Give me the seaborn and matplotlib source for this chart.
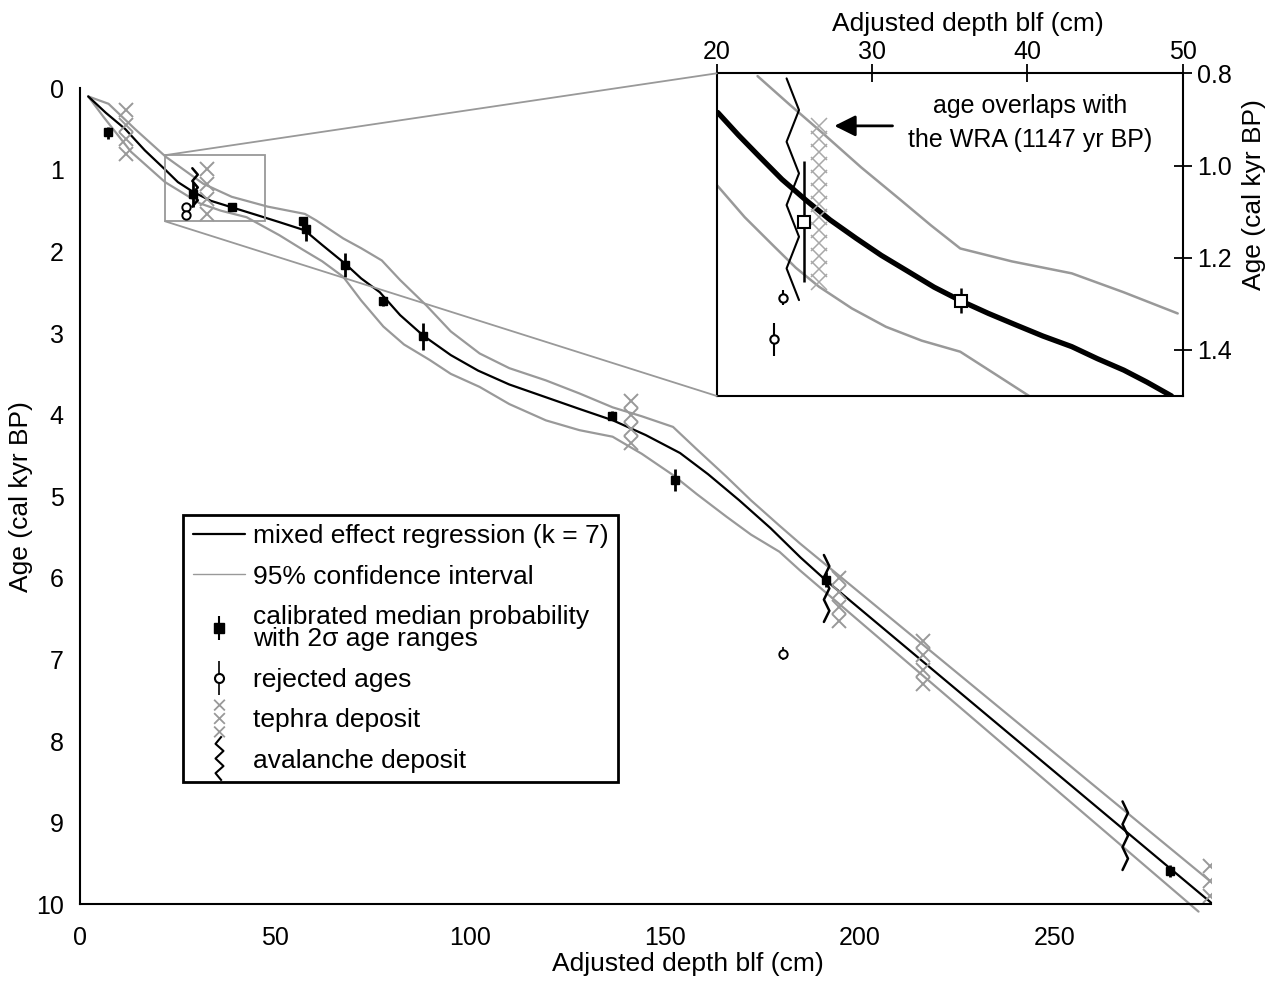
import numpy as np
import matplotlib
matplotlib.use('Agg')
import matplotlib.pyplot as plt
import seaborn as sns
from matplotlib.lines import Line2D
from matplotlib.path import Path
from matplotlib.patches import Rectangle, ConnectionPatch
from matplotlib.legend_handler import HandlerTuple

# ---- main panel: age-depth model (depth in cm, age in cal kyr BP)
fit_depth = [2, 6.5, 11.5, 16.5, 21.8, 25, 28.9, 33.5, 38.9, 45, 51, 57.5, 62, 67.9, 72, 76.8, 82,
             87.9, 95, 102, 110, 119.6, 128, 136.6, 145, 153.8, 161, 169, 177, 184.7, 191.2, 290]
fit_age = [0.10, 0.30, 0.50, 0.76, 1.00, 1.15, 1.27, 1.38, 1.46, 1.55, 1.64, 1.74, 1.92, 2.15, 2.33,
           2.50, 2.78, 3.03, 3.27, 3.46, 3.63, 3.79, 3.93, 4.07, 4.25, 4.47, 4.73, 5.05, 5.39, 5.75, 6.03, 9.98]

ci_up_depth = [2, 7.2, 14, 21.9, 31.5, 38.8, 48, 57.6, 60.5, 67.4, 72, 77.3, 82, 88.7, 95, 102.4, 110,
               119.4, 128, 136.5, 144, 152, 158, 165.7, 172, 179.3, 184.6, 289.6]
ci_up_age = [0.10, 0.19, 0.50, 0.84, 1.17, 1.33, 1.45, 1.54, 1.62, 1.84, 1.96, 2.11, 2.35, 2.66, 2.98,
             3.25, 3.43, 3.58, 3.74, 3.91, 4.02, 4.15, 4.42, 4.76, 5.05, 5.36, 5.58, 9.71]
ci_lo_depth = [2, 5.9, 13, 21.7, 30.6, 36, 42.6, 51, 57.1, 62, 67.4, 72, 77.7, 83, 89.6, 95, 102.4, 110,
               119.4, 128, 136.5, 144, 152, 158, 165.7, 172, 179.3, 184.6, 286.8]
ci_lo_age = [0.10, 0.35, 0.78, 1.15, 1.41, 1.50, 1.58, 1.80, 1.98, 2.12, 2.31, 2.60, 2.92, 3.14, 3.33,
             3.50, 3.66, 3.87, 4.07, 4.19, 4.27, 4.48, 4.74, 4.97, 5.25, 5.47, 5.68, 5.91, 10.09]

# calibrated dates: median and 2-sigma range
cal_depth = [7.1, 28.9, 38.9, 57.2, 57.9, 67.9, 77.7, 87.9, 136.3, 152.5, 191.2, 279.5]
cal_age = [0.53, 1.29, 1.46, 1.63, 1.72, 2.16, 2.61, 3.04, 4.02, 4.80, 6.03, 9.59]
cal_min = [0.47, 1.15, 1.43, 1.58, 1.67, 2.02, 2.55, 2.88, 3.95, 4.67, 5.93, 9.52]
cal_max = [0.62, 1.45, 1.49, 1.72, 1.87, 2.31, 2.67, 3.21, 4.07, 4.93, 6.11, 9.66]

rej_depth = [27.1, 27.1, 180.3]
rej_age = [1.45, 1.55, 6.93]
rej_min = [1.41, 1.51, 6.85]
rej_max = [1.49, 1.59, 7.01]

tephra_depth = [11.7, 32.4, 141.1, 194.7, 216.2, 289.8]
tephra_top = [0.27, 0.99, 3.83, 6.00, 6.77, 9.53]
tephra_base = [0.80, 1.54, 4.35, 6.53, 7.30, 9.90]

aval_depth = [29.4, 191.4, 268.0]
aval_top = [0.98, 5.72, 8.74]
aval_base = [1.45, 6.54, 9.58]

zoom_box = (21.7, 47.3, 0.82, 1.63)

# ---- inset: 20-50 cm
ins_fit_depth = [20.07, 21.4, 22.76, 24.2, 25.74, 27.3, 28.98, 30.6, 32.33, 34.0, 35.8, 37.5, 39.27,
                 41.0, 42.86, 44.5, 46.21, 47.7, 49.28]
ins_fit_age = [0.885, 0.934, 0.981, 1.030, 1.075, 1.118, 1.158, 1.195, 1.230, 1.264, 1.295, 1.321,
               1.346, 1.370, 1.393, 1.419, 1.444, 1.470, 1.50]
ins_up_depth = [22.63, 24.7, 26.83, 29.3, 31.85, 33.8, 35.68, 39.0, 42.86, 46.2, 49.68]
ins_up_age = [0.806, 0.868, 0.930, 1.004, 1.075, 1.130, 1.180, 1.208, 1.234, 1.275, 1.321]
ins_lo_depth = [20.0, 21.8, 23.71, 25.1, 26.59, 28.7, 30.9, 33.2, 35.68, 37.9, 40.11]
ins_lo_age = [1.042, 1.112, 1.176, 1.222, 1.263, 1.310, 1.350, 1.380, 1.404, 1.452, 1.50]

ins_cal_depth = [25.63, 35.75]
ins_cal_age = [1.123, 1.295]
ins_cal_min = [0.99, 1.266]
ins_cal_max = [1.252, 1.321]

ins_rej_depth = [24.24, 23.71]
ins_rej_age = [1.287, 1.377]
ins_rej_min = [1.27, 1.341]
ins_rej_max = [1.303, 1.413]

ins_tephra = (26.6, 0.914, 1.252)
ins_aval = (24.9, 0.811, 1.292)

GREY = '#999999'

sns.set_theme(style='white')
plt.rcParams['font.family'] = ['Liberation Sans', 'DejaVu Sans']
plt.rcParams['text.color'] = 'black'
plt.rcParams['axes.labelcolor'] = 'black'
plt.rcParams['xtick.color'] = 'black'
plt.rcParams['ytick.color'] = 'black'
plt.rcParams['axes.edgecolor'] = 'black'


def draw_tephra(ax, depth, top, base, step, ms, mew, color):
    n = int(round((base - top) / step)) + 1
    ax.plot([depth] * n, np.linspace(top, base, n), ls='none', marker='x',
            ms=ms, mew=mew, color=color, zorder=2)


def draw_aval(ax, depth, top, base, amp, nseg, lw):
    ys = np.linspace(top, base, nseg + 1)
    xs = depth + amp * np.resize([-0.5, 0.5], nseg + 1)
    ax.plot(xs, ys, color='black', lw=lw, zorder=4)


def errs(mid, lo, hi):
    mid = np.array(mid)
    return [mid - np.array(lo), np.array(hi) - mid]


fig = plt.figure(figsize=(12.83, 9.83), dpi=100)
ax = fig.add_axes([0.0627, 0.0801, 0.8812, 0.8301])

sns.lineplot(x=ci_up_depth, y=ci_up_age, ax=ax, color=GREY, lw=1.6, sort=False, clip_on=False)
sns.lineplot(x=ci_lo_depth, y=ci_lo_age, ax=ax, color=GREY, lw=1.6, sort=False, clip_on=False)
sns.lineplot(x=fit_depth, y=fit_age, ax=ax, color='black', lw=1.6, sort=False, clip_on=False)

for d, t, b in zip(tephra_depth, tephra_top, tephra_base):
    draw_tephra(ax, d, t, b, 0.175, 10, 1.4, GREY)
for d, t, b in zip(aval_depth, aval_top, aval_base):
    draw_aval(ax, d, t, b, 1.4, 6, 1.8)

ax.errorbar(cal_depth, cal_age, yerr=errs(cal_age, cal_min, cal_max), fmt='s', color='black',
            ms=6, elinewidth=2, capsize=0, zorder=5)
ax.errorbar(rej_depth, rej_age, yerr=errs(rej_age, rej_min, rej_max), fmt='o', color='black',
            mfc='white', mec='black', ms=6, mew=1.4, elinewidth=1.2, capsize=0, zorder=5)

x0, x1, y0, y1 = zoom_box
ax.add_patch(Rectangle((x0, y0), x1 - x0, y1 - y0, fill=False, ec=GREY, lw=1.3, zorder=3))

ax.set_xlim(0, 290)
ax.set_ylim(10, 0)
ax.set_xticks(range(0, 251, 50))
ax.set_yticks(range(0, 11))
sns.despine(ax=ax)
for s in ['left', 'bottom']:
    ax.spines[s].set_linewidth(1.5)
ax.tick_params(axis='both', direction='inout', length=10, width=1.3, labelsize=18)
ax.tick_params(axis='x', pad=11)
ax.tick_params(axis='y', pad=7)
ax.set_xlabel('Adjusted depth blf (cm)', fontsize=19)
ax.set_ylabel('Age (cal kyr BP)', fontsize=19, labelpad=2)
ax.xaxis.set_label_coords(0.537, -0.058)

# legend
tephra_marker = Path(
    [(-0.5, 0.75), (0.5, 1.75), (-0.5, 1.75), (0.5, 0.75),
     (-0.5, -0.5), (0.5, 0.5), (-0.5, 0.5), (0.5, -0.5),
     (-0.5, -1.75), (0.5, -0.75), (-0.5, -0.75), (0.5, -1.75)],
    [Path.MOVETO, Path.LINETO, Path.MOVETO, Path.LINETO] * 3)
aval_marker = Path(
    [(0.05, 0.5), (-0.09, 0.33), (0.09, 0.17), (-0.09, 0.0), (0.09, -0.17), (-0.09, -0.33), (0.05, -0.5)])

handles = [
    Line2D([], [], color='black', lw=1.6),
    Line2D([], [], color=GREY, lw=1.0),
    (Line2D([], [], color='black', marker='|', ms=17, mew=1.5, ls='none'),
     Line2D([], [], color='black', marker='s', ms=7, ls='none')),
    (Line2D([], [], color='black', marker='|', ms=25, mew=1.2, ls='none'),
     Line2D([], [], marker='o', ms=6.5, mfc='white', mec='black', mew=1.5, ls='none')),
    Line2D([], [], marker=tephra_marker, ms=27, color=GREY, mfc='none', mew=1.3, ls='none'),
    Line2D([], [], marker=aval_marker, ms=32, color='black', mfc='none', mew=1.5, ls='none'),
]
labels = ['mixed effect regression (k = 7)', '95% confidence interval',
          'calibrated median probability\nwith 2\u03c3 age ranges', 'rejected ages',
          'tephra deposit', 'avalanche deposit']
leg = ax.legend(handles, labels, loc='upper left', bbox_to_anchor=(183.3 / 1283, 1 - 515 / 983),
                bbox_transform=fig.transFigure, borderaxespad=0, fontsize=19, frameon=True,
                fancybox=False, edgecolor='black', framealpha=1, handlelength=2.0,
                handletextpad=0.3, borderpad=0.35, labelspacing=0.62,
                handler_map={tuple: HandlerTuple(ndivide=1)})
leg.get_frame().set_linewidth(2)
for t in leg.get_texts():
    t.set_linespacing(0.92)

# inset
axins = fig.add_axes([0.5586, 0.5972, 0.3632, 0.3282])
sns.lineplot(x=ins_up_depth, y=ins_up_age, ax=axins, color=GREY, lw=1.8, sort=False)
sns.lineplot(x=ins_lo_depth, y=ins_lo_age, ax=axins, color=GREY, lw=1.8, sort=False)
sns.lineplot(x=ins_fit_depth, y=ins_fit_age, ax=axins, color='black', lw=3.8, sort=False)
draw_tephra(axins, ins_tephra[0], ins_tephra[1], ins_tephra[2], 0.028, 11, 1.1, '#a8a8a8')
draw_aval(axins, ins_aval[0], ins_aval[1], ins_aval[2], 0.8, 7, 1.5)
axins.errorbar(ins_cal_depth, ins_cal_age, yerr=errs(ins_cal_age, ins_cal_min, ins_cal_max), fmt='s',
               color='black', mfc='white', mec='black', ms=8, mew=1.5, elinewidth=1.8, capsize=0, zorder=5)
axins.errorbar(ins_rej_depth, ins_rej_age, yerr=errs(ins_rej_age, ins_rej_min, ins_rej_max), fmt='o',
               color='black', mfc='white', mec='black', ms=6, mew=1.5, elinewidth=1.5, capsize=0, zorder=5)
axins.annotate('', xy=(27.4, 0.914), xytext=(31.5, 0.914),
               arrowprops=dict(arrowstyle='-|>', color='black', lw=2, mutation_scale=32))
axins.text(40.2, 0.908, 'age overlaps with\nthe WRA (1147 yr BP)', ha='center', va='center',
           fontsize=18, linespacing=1.5)

axins.set_xlim(20, 50)
axins.set_ylim(1.5, 0.8)
axins.set_xticks([20, 30, 40, 50])
axins.set_yticks([0.8, 1.0, 1.2, 1.4])
axins.set_yticklabels(['0.8', '1.0', '1.2', '1.4'])
axins.xaxis.tick_top()
axins.yaxis.tick_right()
axins.xaxis.set_label_position('top')
axins.yaxis.set_label_position('right')
for s in axins.spines.values():
    s.set_linewidth(1.5)
axins.tick_params(axis='both', direction='inout', length=13, width=1.3, labelsize=18)
axins.tick_params(axis='x', pad=0)
axins.tick_params(axis='y', pad=4)
axins.set_xlabel('Adjusted depth blf (cm)', fontsize=19)
axins.set_ylabel('Age (cal kyr BP)', fontsize=19)
axins.xaxis.set_label_coords(0.54, 1.13)
axins.yaxis.set_label_coords(1.127, 0.623)

# connectors from zoom box to inset
for ya, yb in [(y0, 1), (y1, 0)]:
    con = ConnectionPatch(xyA=(x0, ya), coordsA=ax.transData, xyB=(0, yb), coordsB=axins.transAxes,
                          color=GREY, lw=1.3)
    fig.add_artist(con)

fig.savefig('out.png', dpi=100)
